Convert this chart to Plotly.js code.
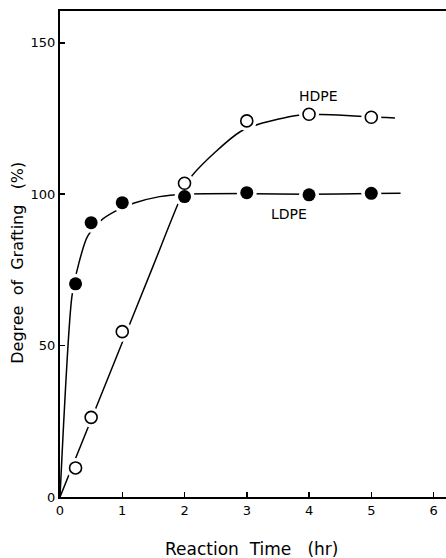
<!DOCTYPE html>
<html>
<head>
<meta charset="utf-8">
<script src="https://cdn.plot.ly/plotly-3.0.1.min.js"></script>
<style>
html,body{margin:0;padding:0;background:#fff;}
#chart{width:446px;height:558px;}
</style>
</head>
<body>
<div id="chart"></div>
<script>
// Measured points
var timeHours = [0.25, 0.5, 1, 2, 3, 4, 5];
var hdpeGrafting = [9.6, 26.3, 54.6, 103.6, 124.2, 126.4, 125.4];
var ldpeGrafting = [70.4, 90.6, 97.2, 99.2, 100.5, 99.8, 100.3];

// Hand-drawn trend curves
var hdpeCurveX = [0, 0.5, 1, 1.5, 1.9, 2.1, 2.5, 2.9, 3.2, 3.8, 4.2, 4.6, 5, 5.38];
var hdpeCurveY = [0, 25.5, 51, 76.5, 97, 105.5, 114, 120.7, 123.2, 126, 126.3, 126, 125.5, 125.2];
var ldpeCurveX = [0, 0.19, 0.3, 0.44, 0.65, 0.89, 1.18, 1.6, 2, 3, 4, 5, 5.47];
var ldpeCurveY = [0, 66, 77, 86, 91.2, 94.4, 97, 99.2, 100, 100.2, 100, 100.2, 100.3];

var xTickVals = [0, 1, 2, 3, 4, 5, 6];
var yTickVals = [0, 50, 100, 150];

var lineStyle = {color: '#000', width: 1.5, shape: 'spline', smoothing: 0.7};

var traces = [
  {x: hdpeCurveX, y: hdpeCurveY, mode: 'lines', line: lineStyle, hoverinfo: 'skip', showlegend: false},
  {x: ldpeCurveX, y: ldpeCurveY, mode: 'lines', line: lineStyle, hoverinfo: 'skip', showlegend: false},
  // white halos to produce gaps in the lines around the symbols
  {x: timeHours, y: hdpeGrafting, mode: 'markers', marker: {size: 20, color: '#fff'}, hoverinfo: 'skip', showlegend: false},
  {x: timeHours, y: ldpeGrafting, mode: 'markers', marker: {size: 20, color: '#fff'}, hoverinfo: 'skip', showlegend: false},
  {x: timeHours, y: hdpeGrafting, mode: 'markers', name: 'HDPE',
   marker: {size: 12, color: '#fff', line: {color: '#000', width: 1.6}}, showlegend: false},
  {x: timeHours, y: ldpeGrafting, mode: 'markers', name: 'LDPE',
   marker: {size: 13, color: '#000', line: {color: '#000', width: 0}}, showlegend: false}
];

var fontFam = 'DejaVu Sans, Arial, sans-serif';

var layout = {
  width: 446, height: 558,
  margin: {l: 60, r: 0, t: 11, b: 61},
  paper_bgcolor: '#fff', plot_bgcolor: '#fff',
  showlegend: false,
  xaxis: {
    range: [0, 6.2], tickvals: xTickVals, ticktext: xTickVals.map(String),
    showgrid: false, zeroline: false,
    showline: true, linecolor: '#000', linewidth: 2, mirror: true,
    ticks: 'inside', ticklen: 5, tickwidth: 1.5, tickcolor: '#000',
    tickfont: {family: fontFam, size: 13, color: '#000'}
  },
  yaxis: {
    range: [0, 160.5], tickvals: yTickVals, ticktext: yTickVals.map(String),
    showgrid: false, zeroline: false,
    showline: true, linecolor: '#000', linewidth: 2, mirror: false,
    ticks: 'inside', ticklen: 5, tickwidth: 1.5, tickcolor: '#000',
    tickfont: {family: fontFam, size: 13, color: '#000'}
  },
  annotations: [
    {x: 4.15, y: 132.5, xref: 'x', yref: 'y', text: 'HDPE', showarrow: false,
     font: {family: fontFam, size: 14, color: '#000'}},
    {x: 3.68, y: 93.5, xref: 'x', yref: 'y', text: 'LDPE', showarrow: false,
     font: {family: fontFam, size: 14, color: '#000'}},
    {x: 0.497, y: -0.107, xref: 'paper', yref: 'paper', xanchor: 'center', yanchor: 'middle',
     text: 'Reaction\u00a0\u00a0Time\u00a0\u00a0\u00a0(hr)', showarrow: false,
     font: {family: fontFam, size: 17, color: '#000'}},
    {x: -0.110, y: 0.481, xref: 'paper', yref: 'paper', xanchor: 'center', yanchor: 'middle',
     textangle: -90, text: 'Degree\u00a0\u00a0of\u00a0\u00a0Grafting\u00a0\u00a0\u00a0(%)', showarrow: false,
     font: {family: fontFam, size: 16, color: '#000'}}
  ]
};

Plotly.newPlot('chart', traces, layout, {displayModeBar: false, staticPlot: true});
</script>
</body>
</html>
